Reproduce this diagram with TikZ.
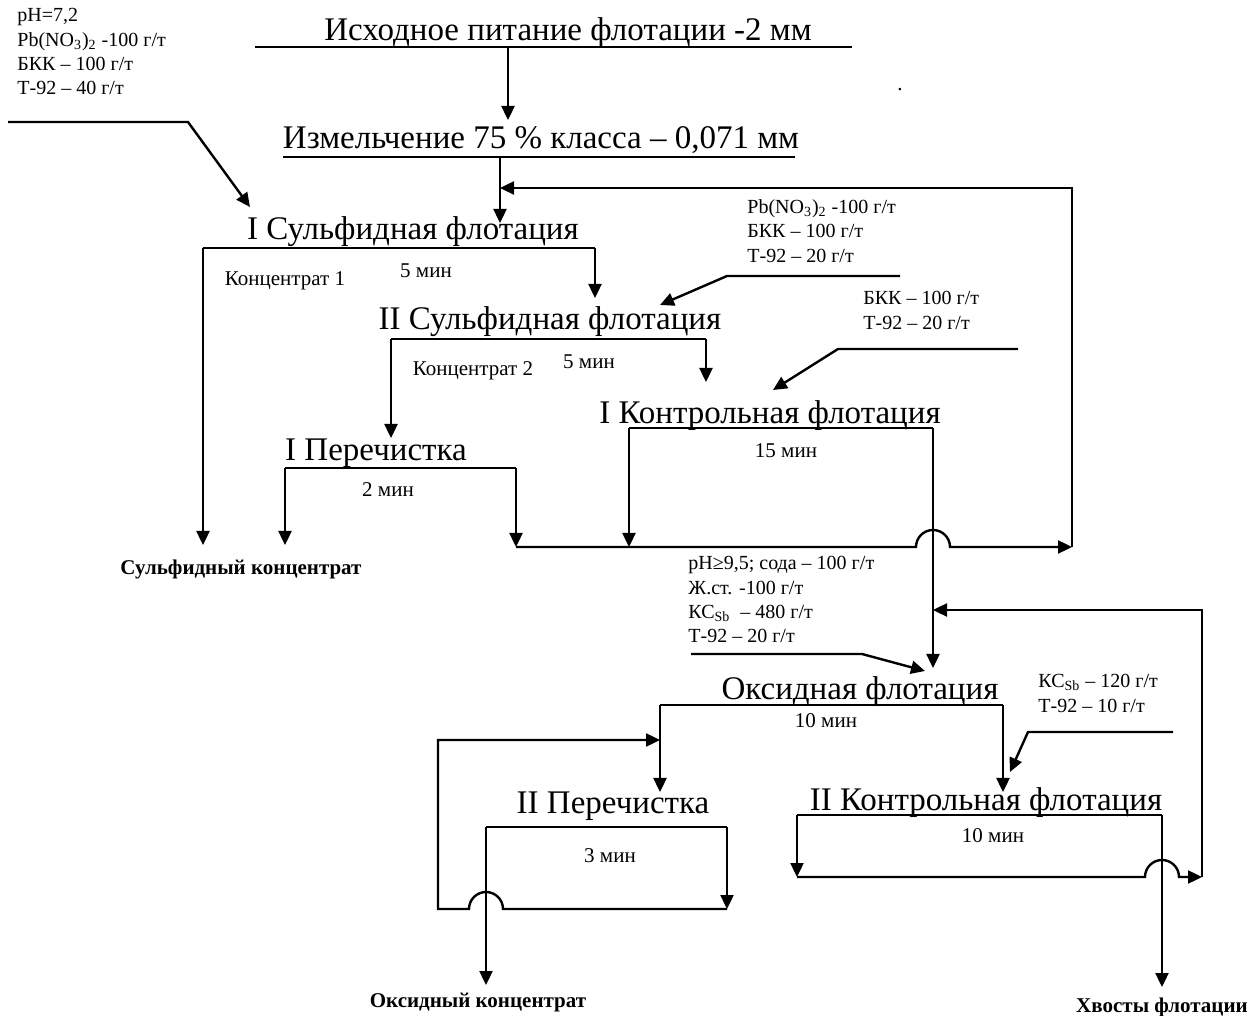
\documentclass[tikz,border=0pt]{standalone}
\usepackage{fontspec}
\setmainfont{Liberation Serif}
\usetikzlibrary{arrows.meta}

\begin{document}
\begin{tikzpicture}[x=0.5pt,y=-0.5pt,
  bar/.style={line width=1.2pt},
  flow/.style={line width=1.2pt,-{Triangle[length=7pt,width=6.5pt]}},
  stage/.style={font=\fontsize{16.5}{19}\selectfont,anchor=base,inner sep=0pt},
  note/.style={font=\fontsize{10.5}{12.5}\selectfont,anchor=base,inner sep=0pt},
  reag/.style={font=\fontsize{10}{12.2}\selectfont,align=left,anchor=north west,inner sep=0pt},
  prod/.style={font=\fontsize{10.5}{12.5}\selectfont\bfseries,anchor=base,inner sep=0pt}]

\useasboundingbox (0,0) rectangle (1250,1016);

% stages
\node[stage] (feed) at (568,41) {Исходное питание флотации -2 мм};
\node[stage] (grind) at (541,149) {Измельчение 75 \% класса – 0,071 мм};
\node[stage] (sulf1) at (413,240) {I Сульфидная флотация};
\node[stage] (sulf2) at (550,330) {II Сульфидная флотация};
\node[stage] (ctrl1) at (770,424) {I Контрольная флотация};
\node[stage] (clean1) at (376,461) {I Перечистка};
\node[stage] (oxid) at (860,700) {Оксидная флотация};
\node[stage] (clean2) at (613,813) {II Перечистка};
\node[stage] (ctrl2) at (986,811) {II Контрольная флотация};

% times and froth names
\node[note] (conc1) at (285,286) {Концентрат 1};
\node[note] (time1) at (426,278) {5 мин};
\node[note] (conc2) at (473,376) {Концентрат 2};
\node[note] (time2) at (589,369) {5 мин};
\node[note] (time3) at (786,458) {15 мин};
\node[note] (time4) at (388,497) {2 мин};
\node[note] (time5) at (826,727) {10 мин};
\node[note] (time6) at (610,863) {3 мин};
\node[note] (time7) at (993,842) {10 мин};
\node[note] (dot) at (900,91) {.};

% products
\node[prod] (sconc) at (241,575) {Сульфидный концентрат};
\node[prod] (oconc) at (478,1007) {Оксидный концентрат};
\node[prod] (tails) at (1162,1012) {Хвосты флотации};

% reagents
\node[reag] (r1) at (17,8) {pH=7,2\\Pb(NO\textsubscript{3})\textsubscript{2} -100 г/т\\БКК – 100 г/т\\Т-92 – 40 г/т};
\node[reag] (r2) at (747,199) {Pb(NO\textsubscript{3})\textsubscript{2} -100 г/т\\БКК – 100 г/т\\Т-92 – 20 г/т};
\node[reag] (r3) at (863,291) {БКК – 100 г/т\\Т-92 – 20 г/т};
\node[reag] (r4) at (688,556) {pH≥9,5; сода – 100 г/т\\Ж.ст. -100 г/т\\КС\textsubscript{Sb} \ – 480 г/т\\Т-92 – 20 г/т};
\node[reag] (r5) at (1038,674) {КС\textsubscript{Sb} – 120 г/т\\Т-92 – 10 г/т};

% bar ends
\coordinate (feedL) at (255,47);
\coordinate (feedR) at (852,47);
\coordinate (grindL) at (283,157);
\coordinate (grindR) at (795,157);
\coordinate (sulf1L) at (203,248);
\coordinate (sulf1R) at (595,248);
\coordinate (sulf2L) at (391,339);
\coordinate (sulf2R) at (706,339);
\coordinate (ctrl1L) at (629,428);
\coordinate (ctrl1R) at (933,428);
\coordinate (clean1L) at (285,468);
\coordinate (clean1R) at (516,468);
\coordinate (oxidL) at (660,705);
\coordinate (oxidR) at (1003,705);
\coordinate (clean2L) at (486,827);
\coordinate (clean2R) at (727,827);
\coordinate (ctrl2L) at (797,815);
\coordinate (ctrl2R) at (1162,815);

% flow points
\coordinate (feedout) at (508,47);
\coordinate (grindin) at (508,120);
\coordinate (grindout) at (500,157);
\coordinate (sulf1in) at (500,223);
\coordinate (sulf2in) at (595,298);
\coordinate (ctrl1in) at (706,382);
\coordinate (clean1in) at (391,438);
\coordinate (sconc1) at (203,545);
\coordinate (sconc2) at (285,545);
\coordinate (joinA) at (516,547);
\coordinate (joinB) at (629,547);
\coordinate (hump1) at (916,547);
\coordinate (loopA) at (1072,547);
\coordinate (loopB) at (1072,188);
\coordinate (rec1) at (500,188);
\coordinate (oxidin) at (933,668);
\coordinate (clean2in) at (660,792);
\coordinate (ctrl2in) at (1003,792);
\coordinate (oconcin) at (486,985);
\coordinate (ret2) at (727,909);
\coordinate (hump2) at (503,909);
\coordinate (loopE) at (438,909);
\coordinate (loopF) at (438,740);
\coordinate (rec3) at (660,740);
\coordinate (ctrl2tail) at (797,877);
\coordinate (hump3) at (1145,877);
\coordinate (loopC) at (1202,877);
\coordinate (loopD) at (1202,610);
\coordinate (rec2) at (933,610);
\coordinate (tailsin) at (1162,987);

% reagent feed points
\coordinate (r1a) at (8,122);
\coordinate (r1b) at (188,122);
\coordinate (r1in) at (250,207);
\coordinate (r2a) at (900,276);
\coordinate (r2b) at (727,276);
\coordinate (r2in) at (660,305);
\coordinate (r3a) at (1018,349);
\coordinate (r3b) at (838,349);
\coordinate (r3in) at (773,390);
\coordinate (r4a) at (691,654);
\coordinate (r4b) at (862,654);
\coordinate (r4in) at (925,671);
\coordinate (r5a) at (1173,732);
\coordinate (r5b) at (1028,732);
\coordinate (r5in) at (1010,772);

% bars
\draw[bar] (feedL) -- (feedR);
\draw[bar] (grindL) -- (grindR);
\draw[bar] (sulf1L) -- (sulf1R);
\draw[bar] (sulf2L) -- (sulf2R);
\draw[bar] (ctrl1L) -- (ctrl1R);
\draw[bar] (clean1L) -- (clean1R);
\draw[bar] (oxidL) -- (oxidR);
\draw[bar] (clean2L) -- (clean2R);
\draw[bar] (ctrl2L) -- (ctrl2R);

% main flows
\draw[flow] (feedout) -- (grindin);
\draw[flow] (grindout) -- (sulf1in);
\draw[flow] (sulf1L) -- (sconc1);
\draw[flow] (sulf1R) -- (sulf2in);
\draw[flow] (sulf2L) -- (clean1in);
\draw[flow] (sulf2R) -- (ctrl1in);
\draw[flow] (clean1L) -- (sconc2);
\draw[flow] (clean1R) -- (joinA);
\draw[flow] (ctrl1L) -- (joinB);
\draw[flow] (ctrl1R) -- (oxidin);
\draw[flow] (oxidL) -- (clean2in);
\draw[flow] (oxidR) -- (ctrl2in);
\draw[flow] (clean2L) -- (oconcin);
\draw[flow] (clean2R) -- (ret2);
\draw[flow] (ctrl2L) -- (ctrl2tail);
\draw[flow] (ctrl2R) -- (tailsin);

% recycles
\draw[flow] (joinA) -- (hump1) arc[start angle=180,end angle=0,radius=8.5pt] -- (loopA);
\draw[flow] (loopA) -- (loopB) -- (rec1);
\draw[flow] (ret2) -- (hump2) arc[start angle=0,end angle=180,radius=8.5pt] -- (loopE) -- (loopF) -- (rec3);
\draw[flow] (ctrl2tail) -- (hump3) arc[start angle=180,end angle=0,radius=8.5pt] -- (loopC);
\draw[flow] (loopC) -- (loopD) -- (rec2);

% reagent feeds
\draw[flow] (r1a) -- (r1b) -- (r1in);
\draw[flow] (r2a) -- (r2b) -- (r2in);
\draw[flow] (r3a) -- (r3b) -- (r3in);
\draw[flow] (r4a) -- (r4b) -- (r4in);
\draw[flow] (r5a) -- (r5b) -- (r5in);

\end{tikzpicture}
\end{document}
